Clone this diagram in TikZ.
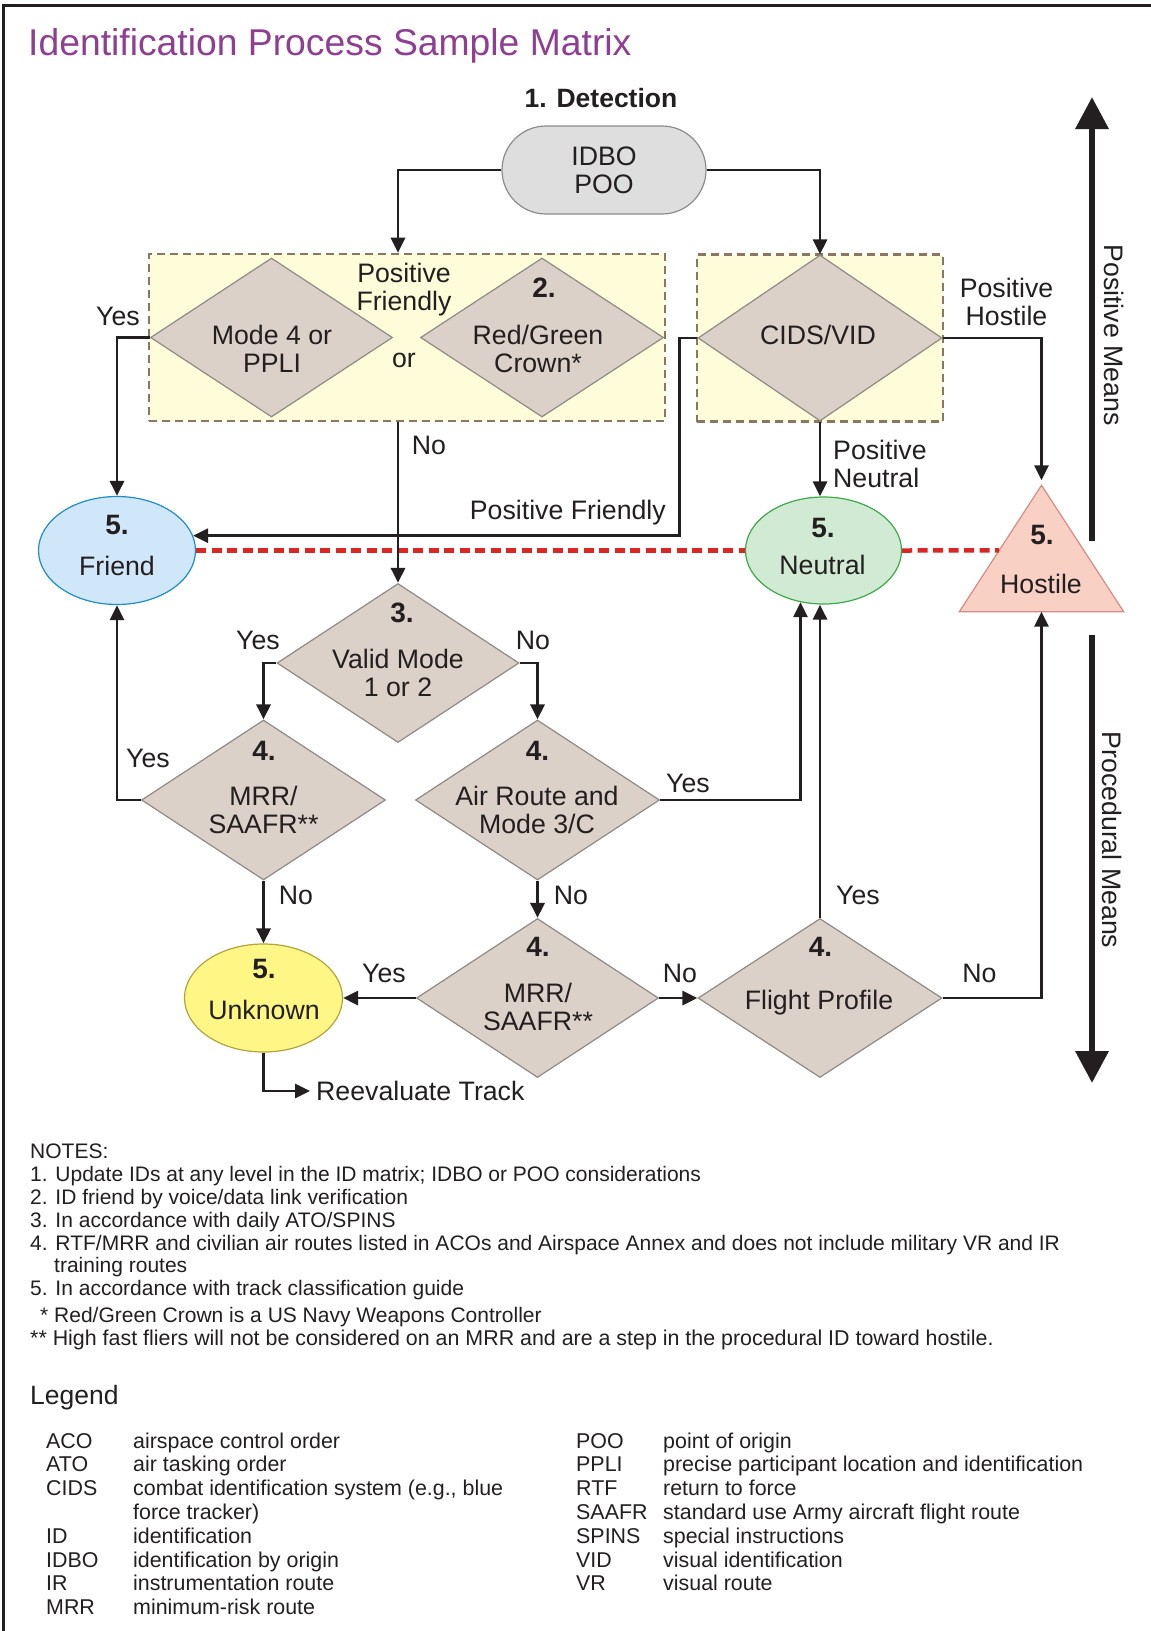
\documentclass[tikz,border=0pt]{standalone}
\usepackage{fontspec}
\setmainfont{Liberation Sans}
\usetikzlibrary{arrows.meta,shapes.geometric,calc}
\definecolor{ink}{HTML}{231F20}
\definecolor{titlec}{HTML}{8E3F92}
\definecolor{diaf}{HTML}{DCD1C8}
\definecolor{diab}{HTML}{8F8A86}
\definecolor{boxf}{HTML}{FFFCD9}
\definecolor{boxb}{HTML}{8B7661}
\definecolor{idbof}{HTML}{DEDEDE}
\definecolor{idbob}{HTML}{8C8C8C}
\definecolor{frf}{HTML}{CFE7F8}
\definecolor{frb}{HTML}{1D8FC6}
\definecolor{neuf}{HTML}{D1EAD3}
\definecolor{neub}{HTML}{3BAA4A}
\definecolor{hosf}{HTML}{F8D0C4}
\definecolor{hosb}{HTML}{D48C86}
\definecolor{unkf}{HTML}{FFF785}
\definecolor{unkb}{HTML}{B5A23C}
\definecolor{redd}{HTML}{DD2521}
\begin{document}
\begin{tikzpicture}[x=1pt,y=-1pt]
\tikzset{
  conn/.style={draw=ink, line width=2.9pt, -{Triangle[length=15pt,width=14pt]}},
  big/.style={draw=ink, line width=6.5pt, -{Triangle[length=32pt,width=32pt]}},
  dia/.style={diamond, draw=diab, fill=diaf, line width=1.2pt, minimum width=242pt, minimum height=159pt, inner sep=0pt},
  ell/.style={ellipse, line width=1.2pt, inner sep=0pt},
  dbox/.style={rectangle, draw=boxb, fill=boxf, line width=2.6pt, dash pattern=on 8pt off 5pt, inner sep=0pt},
  lbl/.style={font=\fontsize{26.7}{28}\selectfont, text=ink, align=center, inner sep=0pt},
  num/.style={font=\fontsize{28}{30}\selectfont\bfseries, text=ink, inner sep=0pt},
  reddash/.style={draw=redd, line width=4.5pt, dash pattern=on 10pt off 5.5pt},
  note/.style={font=\fontsize{21}{24}\selectfont, text=ink, anchor=base west, inner sep=0pt},
  legt/.style={font=\fontsize{21.4}{24}\selectfont, text=ink, anchor=base west, inner sep=0pt},
}
\useasboundingbox (0,0) rectangle (1151,1631);
\fill[white] (0,0) rectangle (1151,1631);
% frame
\draw[ink, line width=3pt] (3,1631) -- (3,5) -- (1151,5);
% title
\node[font=\fontsize{37.3}{40}\selectfont, text=titlec, anchor=base west, inner sep=0pt] (title) at (28,55) {Identification Process Sample Matrix};
\node[font=\fontsize{26.5}{28}\selectfont\bfseries, text=ink, inner sep=0pt] (det) at (601,98) {1. Detection};

% boxes
\node[dbox, minimum width=516pt, minimum height=167pt] (lbox) at (407,337.5) {};
\node[dbox, minimum width=246pt, minimum height=167pt] (rbox) at (820,338) {};

% top nodes
\node[lbl, rectangle, rounded corners=44pt, minimum width=204pt, minimum height=88pt, draw=idbob, fill=idbof, line width=1.2pt] (idbo) at (604,170) {IDBO\\POO};
\node[dia] (mode4) at (271.5,337.5) {};
\node[dia, minimum width=243pt] (rg) at (542,337.5) {};
\node[dia, minimum width=244pt, minimum height=166pt] (cids) at (820,338) {};

% outcomes
\node[ell, draw=frb, fill=frf, minimum width=157pt, minimum height=108pt] (friend) at (117,550.5) {};
\node[ell, draw=neub, fill=neuf, minimum width=156pt, minimum height=107pt] (neutral) at (823.5,550.5) {};
\node[ell, draw=unkb, fill=unkf, minimum width=158pt, minimum height=108pt] (unknown) at (263.5,998) {};
\node[rectangle, minimum width=164pt, minimum height=126pt, inner sep=0pt] (hostile) at (1041.5,548.5) {};
\draw[draw=hosb, fill=hosf, line width=1.2pt] (hostile.north) -- (hostile.south east) -- (hostile.south west) -- cycle;

% decisions
\node[dia] (valid) at (398,663) {};
\node[dia, minimum width=244pt, minimum height=160pt] (mrr1) at (263.5,800) {};
\node[dia, minimum width=244pt, minimum height=160pt] (air) at (537.5,800) {};
\node[dia] (mrr2) at (537.5,998) {};
\node[dia, minimum width=244pt] (flight) at (820,998) {};

\node[lbl, anchor=west, inner xsep=6pt] (reeval) at (310,1091) {Reevaluate Track};

% red dashed line
\coordinate (hl) at ($(hostile.north)!0.515!(hostile.south west)$);
\draw[reddash] (friend.east) -- (neutral.west);
\draw[reddash] (neutral.east) -- (hl);

% connectors
\draw[conn] (idbo.west) -| (valid.north |- lbox.north);
\draw[conn] (idbo.east) -| (cids.north);
\draw[conn] (mode4.west) -| (friend.north);
\draw[conn] (valid.north |- lbox.south) -- (valid.north);
\draw[conn] (cids.west) -- ++(-18,0) |- (friend.11);
\draw[conn] (cids.south) -- (cids.south |- neutral.north);
\draw[conn, shorten >=5pt] (cids.east) -| (hostile.north);
\draw[conn] (valid.west) -| (mrr1.north);
\draw[conn] (valid.east) -| (air.north);
\draw[conn] (mrr1.west) -| (friend.south);
\draw[conn] (mrr1.south) -- (unknown.north);
\draw[conn] (air.east) -| (neutral.246);
\draw[conn] (air.south) -- (mrr2.north);
\draw[conn] (mrr2.west) -- (unknown.east);
\draw[conn] (mrr2.east) -- (flight.west);
\draw[conn] (flight.north) -- (flight.north |- neutral.south);
\draw[conn] (flight.east) -| (hostile.south);
\draw[conn] (unknown.south) |- (reeval.west);

% big side arrows
\coordinate (pm1) at (1092,541);
\coordinate (pm2) at (1092,97);
\coordinate (pr1) at (1092,635);
\coordinate (pr2) at (1092,1083);
\draw[big] (pm1) -- (pm2);
\draw[big] (pr1) -- (pr2);
\node[lbl, rotate=-90] (posm) at (1114,335) {Positive Means};
\node[lbl, rotate=-90] (prom) at (1112,840) {Procedural Means};

% texts in shapes
\node[lbl] (t-pf) at (404,289.5) {Positive\\Friendly};
\node[lbl] (t-or) at (404,360) {or};
\node[num] (n-rg) at (544,288) {2.};
\node[lbl] (t-m4) at (272,349) {Mode 4 or\\PPLI};
\node[lbl] (t-rg) at (538,349) {Red/Green\\Crown*};
\node[lbl] (t-cids) at (818,335) {CIDS/VID};
\node[num] (n-fr) at (117,525) {5.};
\node[lbl] (t-fr) at (117,566) {Friend};
\node[num] (n-ne) at (823,528) {5.};
\node[lbl] (t-ne) at (822.5,565) {Neutral};
\node[num] (n-ho) at (1042,535) {5.};
\node[lbl] (t-ho) at (1041,584) {Hostile};
\node[num] (n-va) at (402,613) {3.};
\node[lbl] (t-va) at (398,673) {Valid Mode\\1 or 2};
\node[num] (n-m1) at (264,751) {4.};
\node[lbl] (t-m1) at (263.5,810) {MRR/\\SAAFR**};
\node[num] (n-ai) at (537.5,751) {4.};
\node[lbl] (t-ai) at (537,810) {Air Route and\\Mode 3/C};
\node[num] (n-m2) at (538,947) {4.};
\node[lbl] (t-m2) at (538,1007) {MRR/\\SAAFR**};
\node[num] (n-fl) at (820.5,947) {4.};
\node[lbl] (t-fl) at (819,1003) {Flight Profile};
\node[num] (n-un) at (264,969) {5.};
\node[lbl] (t-un) at (264,1010) {Unknown};

% connector labels
\node[lbl] (l1) at (118,316) {Yes};
\node[lbl] (l2) at (429,445) {No};
\node[lbl] (l3) at (1006.5,302) {Positive\\Hostile};
\node[lbl, anchor=west, align=left] (l4) at (833,464) {Positive\\Neutral};
\node[lbl, anchor=east] (l5) at (666,512.5) {Positive Friendly};
\node[lbl] (l6) at (258,640.5) {Yes};
\node[lbl] (l7) at (533,640.5) {No};
\node[lbl] (l8) at (148,758) {Yes};
\node[lbl] (l9) at (688,783) {Yes};
\node[lbl] (l10) at (296,895) {No};
\node[lbl] (l11) at (571,895) {No};
\node[lbl] (l12) at (858,895) {Yes};
\node[lbl] (l13) at (384,973) {Yes};
\node[lbl] (l14) at (680,973) {No};
\node[lbl] (l15) at (979.5,973) {No};

% notes
\node[note] (nt0) at (30,1158.5) {NOTES:};
\node[note] (nt1) at (30,1181.5) {1. Update IDs at any level in the ID matrix; IDBO or POO considerations};
\node[note] (nt2) at (30,1204.5) {2. ID friend by voice/data link verification};
\node[note] (nt3) at (30,1227.5) {3. In accordance with daily ATO/SPINS};
\node[note] (nt4) at (30,1250) {4. RTF/MRR and civilian air routes listed in ACOs and Airspace Annex and does not include military VR and IR};
\node[note] (nt4b) at (54,1272.5) {training routes};
\node[note] (nt5) at (30,1295.5) {5. In accordance with track classification guide};
\node[note] (nt6) at (40,1322.5) {* Red/Green Crown is a US Navy Weapons Controller};
\node[note, font=\fontsize{21.4}{24}\selectfont] (nt7) at (30,1345.5) {** High fast fliers will not be considered on an MRR and are a step in the procedural ID toward hostile.};

% legend
\node[note, font=\fontsize{26.5}{28}\selectfont] (leg) at (30,1404) {Legend};
\foreach \ab/\df/\yy [count=\i] in {ACO/airspace control order/1448, ATO/air tasking order/1471, CIDS/combat identification system (e.g.{,} blue/1495, /force tracker)/1519, ID/identification/1543, IDBO/identification by origin/1567, IR/instrumentation route/1590.5, MRR/minimum-risk route/1614}{
  \node[legt] (la\i) at (46,\yy) {\ab};
  \node[legt] (ld\i) at (133,\yy) {\df};
}
\foreach \ab/\df/\yy [count=\i] in {POO/point of origin/1448, PPLI/precise participant location and identification/1471, RTF/return to force/1495, SAAFR/standard use Army aircraft flight route/1519, SPINS/special instructions/1543, VID/visual identification/1567, VR/visual route/1590.5}{
  \node[legt] (ra\i) at (576,\yy) {\ab};
  \node[legt] (rd\i) at (663,\yy) {\df};
}
\end{tikzpicture}
\end{document}
